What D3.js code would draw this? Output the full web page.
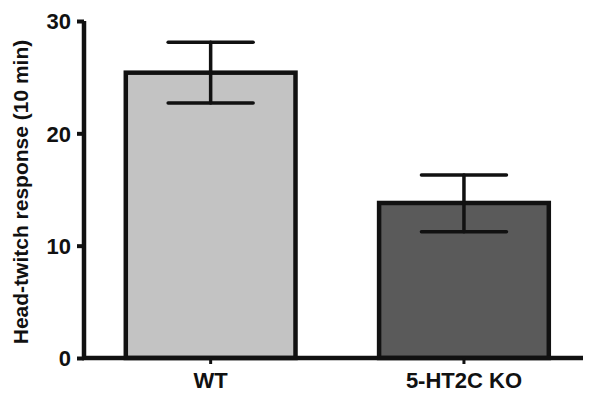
<!DOCTYPE html>
<head>
<meta charset="utf-8">
<style>
  body { margin: 0; background: #fff; }
  text { font-family: "Liberation Sans", Arial, sans-serif; font-weight: bold; fill: #111; }
</style>
</head>
<body>
<script src="https://d3js.org/d3.v7.min.js"></script>
<script>
// groups and their means with error (SEM)
let groups = ["WT", "5-HT2C KO"];
let means = [25.4, 13.8];
let errHi = [28.1, 16.3];
let errLo = [22.7, 11.25];
let fills = ["#c3c3c3", "#5a5a5a"];
let yTicks = [0, 10, 20, 30];

let width = 600;
let height = 400;
let svg = d3.select("body").append("svg")
  .attr("width", width)
  .attr("height", height);

let x = d3.scaleBand()
  .domain(groups)
  .range([84, 583])
  .paddingInner(0.33)
  .paddingOuter(0.15)
  .align(0.55);

let y = d3.scaleLinear()
  .domain([0, 30])
  .range([358, 21]);

// bars
svg.selectAll(".bar")
  .data(groups)
  .enter()
  .append("rect")
  .attr("class", "bar")
  .attr("x", d => x(d))
  .attr("y", (d, i) => y(means[i]))
  .attr("width", x.bandwidth())
  .attr("height", (d, i) => y(0) - y(means[i]))
  .attr("fill", (d, i) => fills[i])
  .attr("stroke", "#111")
  .attr("stroke-width", 4.5);

// error bars
let capW = 85;
let eb = svg.selectAll(".err")
  .data(groups)
  .enter()
  .append("g")
  .attr("class", "err")
  .attr("stroke", "#111")
  .attr("stroke-width", 3.5)
  .attr("stroke-linecap", "round");

eb.append("line")
  .attr("x1", d => x(d) + x.bandwidth() / 2)
  .attr("x2", d => x(d) + x.bandwidth() / 2)
  .attr("y1", (d, i) => y(errLo[i]))
  .attr("y2", (d, i) => y(errHi[i]));
eb.append("line")
  .attr("x1", d => x(d) + x.bandwidth() / 2 - capW / 2)
  .attr("x2", d => x(d) + x.bandwidth() / 2 + capW / 2)
  .attr("y1", (d, i) => y(errHi[i]))
  .attr("y2", (d, i) => y(errHi[i]));
eb.append("line")
  .attr("x1", d => x(d) + x.bandwidth() / 2 - capW / 2)
  .attr("x2", d => x(d) + x.bandwidth() / 2 + capW / 2)
  .attr("y1", (d, i) => y(errLo[i]))
  .attr("y2", (d, i) => y(errLo[i]));

// y axis
let yAxis = svg.append("g")
  .attr("transform", "translate(84,0)")
  .call(d3.axisLeft(y).tickValues(yTicks).tickSize(7).tickPadding(6).tickSizeOuter(0));
yAxis.select(".domain").attr("stroke", "#111").attr("stroke-width", 4.5)
  .attr("d", "M0," + y(30) + "V" + (y(0) + 2));
yAxis.selectAll(".tick line").attr("stroke", "#111").attr("stroke-width", 4);
yAxis.selectAll(".tick text").style("font-size", "22px").attr("dy", "0.36em");

// x axis
let xAxis = svg.append("g")
  .attr("transform", "translate(0,358)")
  .call(d3.axisBottom(x).tickSize(6).tickPadding(8).tickSizeOuter(0));
xAxis.select(".domain").attr("stroke", "#111").attr("stroke-width", 4.5)
  .attr("d", "M82,0H583");
xAxis.selectAll(".tick line").attr("stroke", "#111").attr("stroke-width", 3);
xAxis.selectAll(".tick text").style("font-size", "22px");

// axis title
svg.append("text")
  .attr("transform", "translate(28,192) rotate(-90)")
  .attr("text-anchor", "middle")
  .style("font-size", "21px")
  .text("Head-twitch response (10 min)");
</script>
</body>
